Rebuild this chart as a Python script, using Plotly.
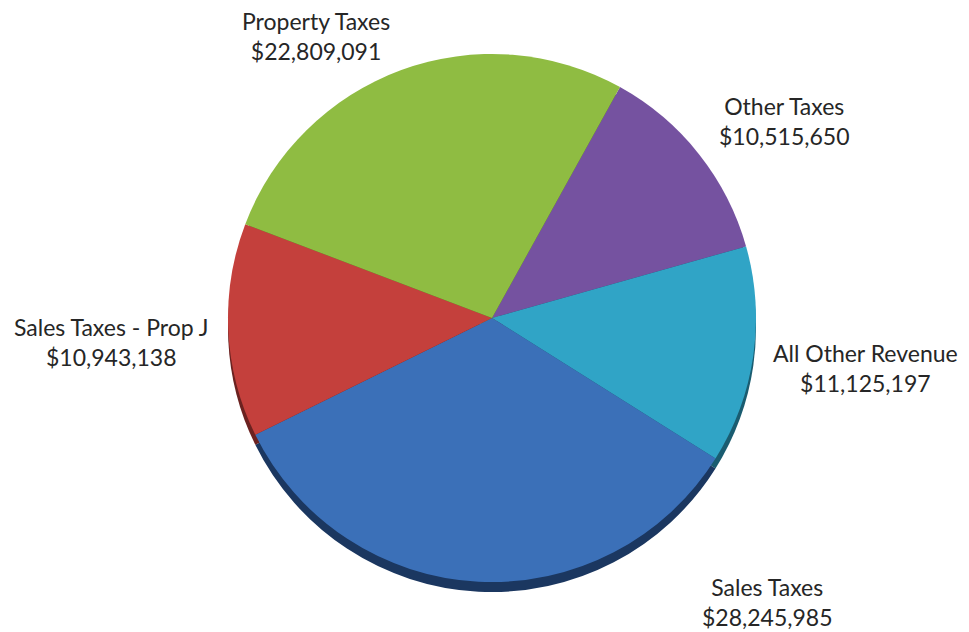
import plotly.graph_objects as go

# Data (order as drawn clockwise starting from the top-right slice)
labels = ["Other Taxes", "All Other Revenue", "Sales Taxes", "Sales Taxes - Prop J", "Property Taxes"]
values = [10515650, 11125197, 28245985, 10943138, 22809091]
colors = ["#7552A0", "#30A4C6", "#3B70B8", "#C4403C", "#8FBC42"]
rim_colors = ["#3E2A5C", "#1A5C70", "#1B3760", "#6B2220", "#4E6B22"]

# label centre positions (paper coords) for each slice's label
label_x = [0.801, 0.885, 0.784, 0.107, 0.318]
label_y = [0.821, 0.430, 0.060, 0.471, 0.956]

W, H = 969, 632
cx, cy, r = 484, 310, 264


def dom(dy=0):
    return dict(x=[(cx - r) / W, (cx + r) / W],
                y=[(H - cy - dy - r) / H, (H - cy - dy + r) / H])


fig = go.Figure()
# dark rim to suggest depth
fig.add_trace(go.Pie(labels=labels, values=values, sort=False, direction="clockwise",
                     rotation=29, marker=dict(colors=rim_colors, line=dict(width=0)),
                     textinfo="none", hoverinfo="skip", domain=dom(10), showlegend=False))
fig.add_trace(go.Pie(labels=labels, values=values, sort=False, direction="clockwise",
                     rotation=29, marker=dict(colors=colors, line=dict(width=0)),
                     textinfo="none", domain=dom(0), showlegend=False))

for lab, val, x, y in zip(labels, values, label_x, label_y):
    fig.add_annotation(x=x, y=y, xref="paper", yref="paper", showarrow=False,
                       xanchor="center", yanchor="middle",
                       text=f"{lab}<br>${val:,}", align="center",
                       font=dict(family="Lato, Open Sans, sans-serif", size=23, color="#262626"))

fig.update_layout(width=W, height=H, margin=dict(l=0, r=0, t=0, b=0),
                  paper_bgcolor="white", plot_bgcolor="white")
fig.write_html("out.html")
